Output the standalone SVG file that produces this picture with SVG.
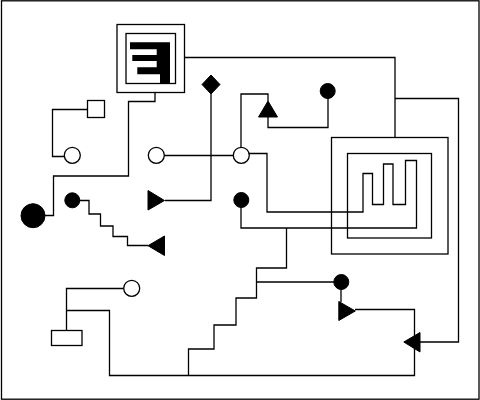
<svg xmlns="http://www.w3.org/2000/svg" width="480" height="400" viewBox="0 0 480 400">
<style>
.c{fill:none;stroke:#000;stroke-width:1.300}
.w{fill:#fff;stroke:#000;stroke-width:1.300}
.b{fill:#000;stroke:#000;stroke-width:1}
</style>
<rect width="480" height="400" fill="#fff"/>
<rect x="1.500" y="0.800" width="477.500" height="398.400" fill="none" stroke="#000" stroke-width="1.300"/>
<g id="connectors" class="c">
<path d="M184 57.500H395V137M395 98.500H458.500V342H420"/>
<path d="M155 92V101.500H128.500V176H53.500V215.500H33"/>
<path d="M87 109.500H52.500V156.500H72"/>
<path d="M156 155.500H241"/>
<path d="M165 200.500H211V84"/>
<path d="M72 200.500H89V214H100.500V226H113V236.500H127.500V245.500H148"/>
<path d="M241 155V94H268V101"/>
<path d="M268 117V127.500H328V91"/>
<path d="M241 153.500H267V212H363V173.500H372.500V204.500H383.500V164H393V204.500H405.500V160.500H416.500V228H241V200"/>
<path d="M286.500 228V268H256.500V298H236V325H214V349H188.500V375.500"/>
<path d="M256.500 282H341V302"/>
<path d="M355 309.500H414.500V375.500H109.500V310.500H66.500"/>
<path d="M66.500 330V288.500H132"/>
</g>
<g id="node-top"><rect x="117" y="24.500" width="67.500" height="68" class="w"/><rect x="126" y="33.500" width="49.500" height="50" class="w"/><path d="M130 42.300H170V83.300H160V74.300H137.300V67.300H156.700V61H132.300V55H156.700V49.300H130Z" fill="#000"/></g>
<g id="node-right"><rect x="331.500" y="137.500" width="116.500" height="116.500" class="c"/><rect x="347.500" y="153.500" width="84" height="84.500" class="c"/></g>
<g id="node-square"><rect x="87.500" y="100.500" width="17" height="17" class="w"/></g>
<g id="node-bar"><rect x="51.500" y="330.500" width="30.500" height="15" class="w"/></g>
<g id="node-c1"><circle cx="72.300" cy="155.300" r="8" class="w"/></g>
<g id="node-c2"><circle cx="156.300" cy="155.300" r="8" class="w"/></g>
<g id="node-c3"><circle cx="241.300" cy="155.300" r="8" class="w"/></g>
<g id="node-c4"><circle cx="131.700" cy="288.300" r="8" class="w"/></g>
<g id="node-d1"><circle cx="33" cy="215.700" r="12" class="b"/></g>
<g id="node-d2"><circle cx="72.300" cy="200.300" r="7.500" class="b"/></g>
<g id="node-d3"><circle cx="241.300" cy="200" r="7.500" class="b"/></g>
<g id="node-d4"><circle cx="327.700" cy="91" r="7.500" class="b"/></g>
<g id="node-d5"><circle cx="341.300" cy="282" r="7.500" class="b"/></g>
<g id="node-diamond"><path d="M211 75L220 84.500L211 94L202 84.500Z" class="b"/></g>
<g id="node-t1"><path d="M148 190.500V210L164.500 200.500Z" class="b"/></g>
<g id="node-t2"><path d="M164.500 236V255.500L148 245.700Z" class="b"/></g>
<g id="node-t3"><path d="M268 101L277.500 117H258.500Z" class="b"/></g>
<g id="node-t4"><path d="M338.800 301.500V320.500L355.300 311Z" class="b"/></g>
<g id="node-t5"><path d="M420 332.500V352L403.800 342Z" class="b"/></g>
</svg>
